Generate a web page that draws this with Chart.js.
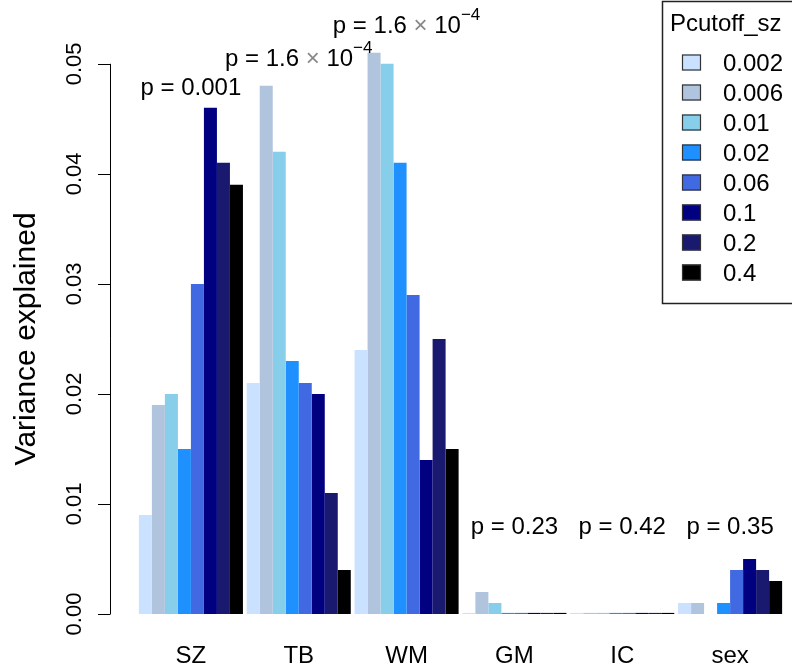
<!DOCTYPE html>
<html>
<head>
<meta charset="utf-8">
<script src="https://cdn.jsdelivr.net/npm/chart.js@4"></script>
<style>
  body { margin: 0; background: #fff; }
  #wrap { width: 792px; height: 670px; }
</style>
</head>
<body>
<div id="wrap"><canvas id="chart" width="792" height="670"></canvas></div>
<script>
// groups on the x axis
const categories = ['SZ', 'TB', 'WM', 'GM', 'IC', 'sex'];

// one series per p-value cutoff
const cutoffs = ['0.002', '0.006', '0.01', '0.02', '0.06', '0.1', '0.2', '0.4'];
const p0002 = [0.009, 0.021, 0.024, 0.0001, 0.0001, 0.001];
const p0006 = [0.019, 0.048, 0.051, 0.002, 0.0001, 0.001];
const p001  = [0.020, 0.042, 0.050, 0.001, 0.0001, 0];
const p002  = [0.015, 0.023, 0.041, 0.0001, 0.0001, 0.001];
const p006  = [0.030, 0.021, 0.029, 0.0001, 0.0001, 0.004];
const p01   = [0.046, 0.020, 0.014, 0.0001, 0.0001, 0.005];
const p02   = [0.041, 0.011, 0.025, 0.0001, 0.0001, 0.004];
const p04   = [0.039, 0.004, 0.015, 0.0001, 0.0001, 0.003];
const series = [p0002, p0006, p001, p002, p006, p01, p02, p04];
const colors = ['#CAE1FF', '#B0C4DE', '#87CEEB', '#1E90FF', '#4169E1', '#000080', '#191970', '#000000'];

// p-value labels above each group, and the height (in data units) they sit at
const pValues = ['0.001', '1.6e-4', '1.6e-4', '0.23', '0.42', '0.35'];
const pLabelY = [0.0478, 0.0504, 0.0534, 0.0079, 0.0079, 0.0079];

// y axis ticks
const yTicks = [0, 0.01, 0.02, 0.03, 0.04, 0.05];
const yTickLabels = ['0.00', '0.01', '0.02', '0.03', '0.04', '0.05'];

const FONT = '"Liberation Sans", Arial, sans-serif';

const rAxisPlugin = {
  id: 'rAxis',
  afterDraw(chart) {
    const ctx = chart.ctx;
    const y = chart.scales.y;
    const x = chart.scales.x;
    const axisX = 110;

    ctx.save();
    // y axis line + ticks, R style
    ctx.strokeStyle = '#000';
    ctx.lineWidth = 1;
    ctx.beginPath();
    ctx.moveTo(axisX + 0.5, y.getPixelForValue(yTicks[0]));
    ctx.lineTo(axisX + 0.5, y.getPixelForValue(yTicks[yTicks.length - 1]));
    yTicks.forEach(t => {
      const py = Math.round(y.getPixelForValue(t)) + 0.5;
      ctx.moveTo(axisX + 0.5, py);
      ctx.lineTo(axisX - 12, py);
    });
    ctx.stroke();

    ctx.fillStyle = '#000';
    ctx.font = '22px ' + FONT;
    ctx.textAlign = 'center';
    ctx.textBaseline = 'middle';
    yTicks.forEach((t, i) => {
      ctx.save();
      ctx.translate(75, y.getPixelForValue(t));
      ctx.rotate(-Math.PI / 2);
      ctx.fillText(yTickLabels[i], 0, 0);
      ctx.restore();
    });

    ctx.save();
    ctx.font = '30px ' + FONT;
    ctx.translate(27, (y.getPixelForValue(0) + y.getPixelForValue(0.05)) / 2);
    ctx.rotate(-Math.PI / 2);
    ctx.fillText('Variance explained', 0, 0);
    ctx.restore();

    // p-value annotations
    pValues.forEach((p, i) => {
      const cx = x.getPixelForValue(i);
      const cy = y.getPixelForValue(pLabelY[i]);
      ctx.textAlign = 'left';
      ctx.textBaseline = 'middle';
      if (p.includes('e')) {
        const [m, e] = p.split('e');
        const parts = [
          { t: 'p = ' + m + ' ', f: '24px ', c: '#000', dy: 0 },
          { t: '\u00D7', f: '24px ', c: '#888', dy: 0 },
          { t: ' 10', f: '24px ', c: '#000', dy: 0 },
          { t: e.replace('-', '\u2212'), f: '17px ', c: '#000', dy: -11 }
        ];
        let w = 0;
        parts.forEach(pt => { ctx.font = pt.f + FONT; w += ctx.measureText(pt.t).width; });
        let px = cx - w / 2;
        parts.forEach(pt => {
          ctx.font = pt.f + FONT;
          ctx.fillStyle = pt.c;
          ctx.fillText(pt.t, px, cy + pt.dy);
          px += ctx.measureText(pt.t).width;
        });
      } else {
        ctx.font = '24px ' + FONT;
        ctx.fillStyle = '#000';
        ctx.textAlign = 'center';
        ctx.fillText('p = ' + p, cx, cy);
      }
    });

    // legend box, top right
    const lx = 662, ly = 1;
    ctx.strokeStyle = '#222';
    ctx.lineWidth = 1.5;
    ctx.strokeRect(lx + 0.5, ly + 0.5, 140, 302);
    ctx.fillStyle = '#000';
    ctx.font = '24px ' + FONT;
    ctx.textAlign = 'left';
    ctx.textBaseline = 'middle';
    ctx.fillText('Pcutoff_sz', 670, 24);
    chart.data.datasets.forEach((ds, i) => {
      const cy = 62.5 + i * 30;
      ctx.fillStyle = ds.backgroundColor;
      ctx.fillRect(682, cy - 8, 19, 16);
      ctx.strokeStyle = '#333';
      ctx.lineWidth = 1.2;
      ctx.strokeRect(682.5, cy - 7.5, 18, 15);
      ctx.fillStyle = '#000';
      ctx.fillText(ds.label, 723, cy + 2);
    });
    ctx.restore();
  }
};

new Chart(
  document.getElementById('chart'),
  {
    type: 'bar',
    data: {
      labels: categories,
      datasets: series.map((d, i) => ({
        label: cutoffs[i],
        data: d,
        backgroundColor: colors[i],
        borderWidth: 0,
        barPercentage: 1,
        categoryPercentage: 0.965
      }))
    },
    options: {
      responsive: false,
      animation: false,
      layout: { padding: { left: 137, right: 8, top: 0, bottom: 0 } },
      plugins: {
        legend: { display: false },
        tooltip: { enabled: false }
      },
      scales: {
        x: {
          grid: { display: false, drawTicks: false },
          border: { display: false },
          ticks: {
            color: '#000',
            font: { family: FONT, size: 24 },
            padding: 28
          },
          afterFit: s => { s.height = 56; }
        },
        y: {
          display: false,
          min: 0,
          max: 0.0558
        }
      }
    },
    plugins: [rAxisPlugin]
  }
);
</script>
</body>
</html>
